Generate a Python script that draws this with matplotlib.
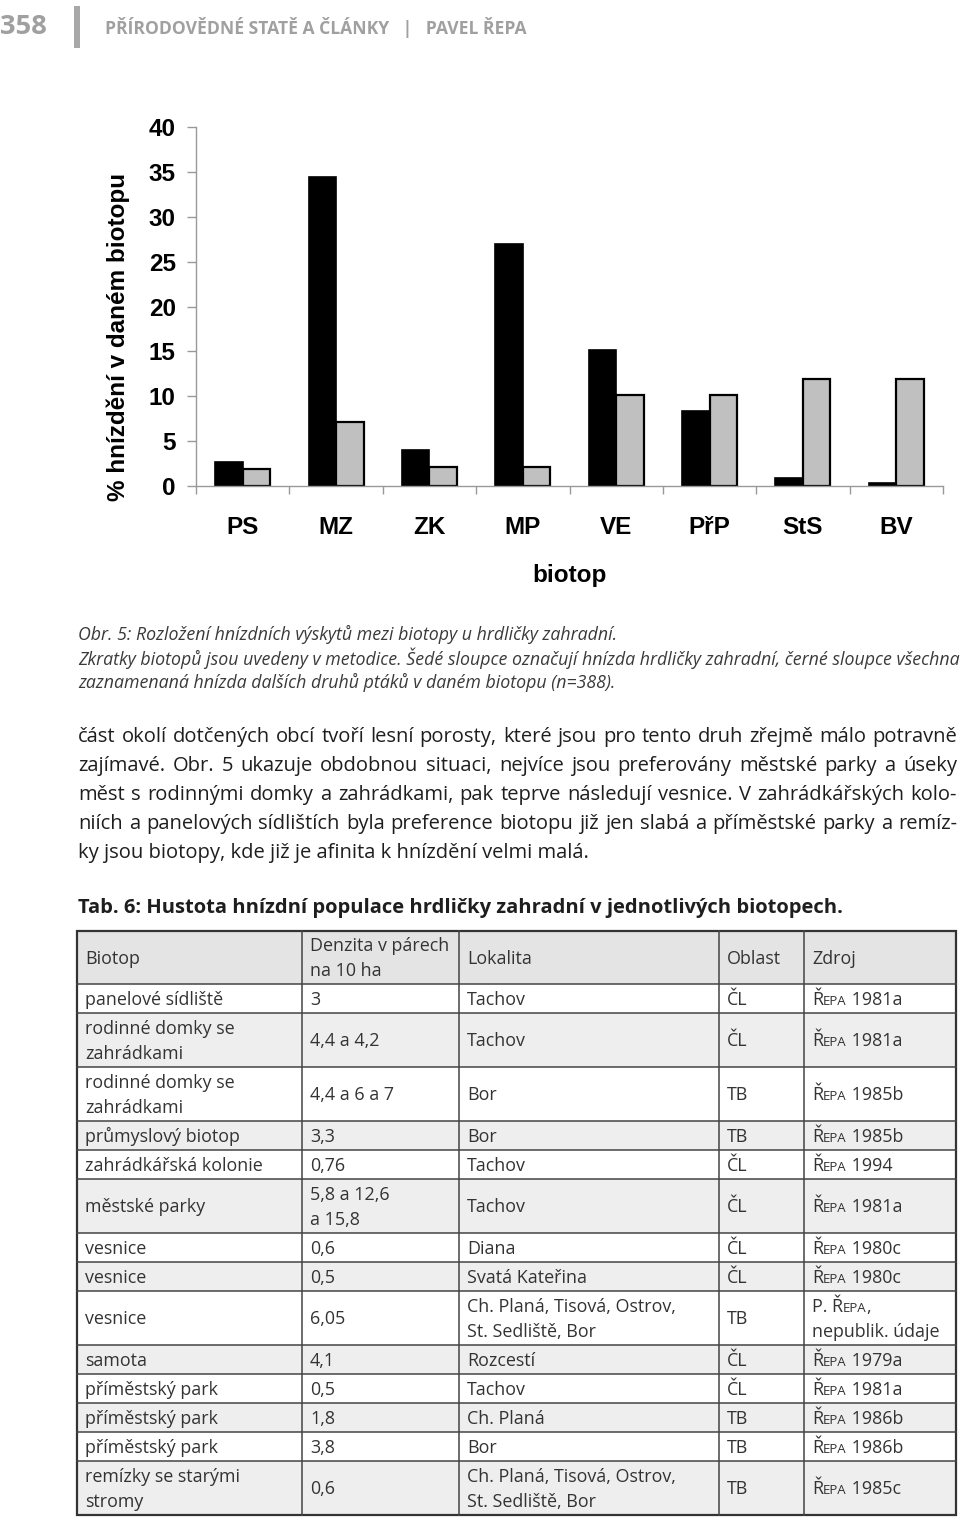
import numpy as np
import matplotlib
matplotlib.use('Agg')
import matplotlib.pyplot as plt
from matplotlib.patches import Rectangle

# --- chart data ---
biotopes = ['PS', 'MZ', 'ZK', 'MP', 'VE', 'PřP', 'StS', 'BV']
other_birds = [2.7, 34.4, 4.0, 27.0, 15.1, 8.3, 0.9, 0.3]      # black bars
collared_dove = [1.9, 7.1, 2.1, 2.1, 10.1, 10.1, 11.9, 11.9]   # grey bars
y_ticks = [0, 5, 10, 15, 20, 25, 30, 35, 40]

# --- text of the page ---
header_num = '358'
header_txt = 'PŘÍRODOVĚDNÉ STATĚ A ČLÁNKY   |   PAVEL ŘEPA'
caption = ['Obr. 5: Rozložení hnízdních výskytů mezi biotopy u hrdličky zahradní.',
           'Zkratky biotopů jsou uvedeny v metodice. Šedé sloupce označují hnízda hrdličky zahradní, černé sloupce všechna',
           'zaznamenaná hnízda dalších druhů ptáků v daném biotopu (n=388).']
paragraph = ['část okolí dotčených obcí tvoří lesní porosty, které jsou pro tento druh zřejmě málo potravně',
             'zajímavé. Obr. 5 ukazuje obdobnou situaci, nejvíce jsou preferovány městské parky a úseky',
             'měst s rodinnými domky a zahrádkami, pak teprve následují vesnice. V zahrádkářských kolo-',
             'niích a panelových sídlištích byla preference biotopu již jen slabá a příměstské parky a remíz-',
             'ky jsou biotopy, kde již je afinita k hnízdění velmi malá.']
tab_title = 'Tab. 6: Hustota hnízdní populace hrdličky zahradní v jednotlivých biotopech.'

# --- table data ---
tab_head = ['Biotop', 'Denzita v párech\nna 10 ha', 'Lokalita', 'Oblast', 'Zdroj']
tab_biotop = ['panelové sídliště', 'rodinné domky se\nzahrádkami', 'rodinné domky se\nzahrádkami',
              'průmyslový biotop', 'zahrádkářská kolonie', 'městské parky', 'vesnice', 'vesnice',
              'vesnice', 'samota', 'příměstský park', 'příměstský park', 'příměstský park',
              'remízky se starými\nstromy']
tab_denzita = ['3', '4,4 a 4,2', '4,4 a 6 a 7', '3,3', '0,76', '5,8 a 12,6\na 15,8', '0,6', '0,5',
               '6,05', '4,1', '0,5', '1,8', '3,8', '0,6']
tab_lokalita = ['Tachov', 'Tachov', 'Bor', 'Bor', 'Tachov', 'Tachov', 'Diana', 'Svatá Kateřina',
                'Ch. Planá, Tisová, Ostrov,\nSt. Sedliště, Bor', 'Rozcestí', 'Tachov', 'Ch. Planá', 'Bor',
                'Ch. Planá, Tisová, Ostrov,\nSt. Sedliště, Bor']
tab_oblast = ['ČL', 'ČL', 'TB', 'TB', 'ČL', 'ČL', 'ČL', 'ČL', 'TB', 'ČL', 'ČL', 'TB', 'TB', 'TB']
tab_zdroj = ['ŘEPA 1981a', 'ŘEPA 1981a', 'ŘEPA 1985b', 'ŘEPA 1985b', 'ŘEPA 1994', 'ŘEPA 1981a',
             'ŘEPA 1980c', 'ŘEPA 1980c', 'P. ŘEPA,\nnepublik. údaje', 'ŘEPA 1979a', 'ŘEPA 1981a',
             'ŘEPA 1986b', 'ŘEPA 1986b', 'ŘEPA 1985c']

W, H = 960, 1521
fig = plt.figure(figsize=(W / 100, H / 100), dpi=100)
fig.patch.set_facecolor('white')
page = fig.add_axes([0, 0, 1, 1])
page.set_xlim(0, W)
page.set_ylim(H, 0)
page.axis('off')
rend = fig.canvas.get_renderer()

BODY = ['Open Sans', 'DejaVu Sans']
ARIAL = ['Liberation Sans', 'DejaVu Sans']


def width_of(t):
    return t.get_window_extent(rend).width


def fit_text(x, y, s, width, size0=12, **kw):
    t = page.text(x, y, s, fontsize=size0, **kw)
    t.set_fontsize(size0 * width / width_of(t))
    return t


def justify(x0, x1, y, line, size, **kw):
    words = line.split(' ')
    texts = [page.text(0, y, w, fontsize=size, **kw) for w in words]
    widths = [width_of(t) for t in texts]
    gap = (x1 - x0 - sum(widths)) / max(len(words) - 1, 1)
    xx = x0
    for t, w in zip(texts, widths):
        t.set_x(xx)
        xx += w + gap


def runs(x, y, s, size, **kw):
    # "ŘEPA" is set in small caps in the source
    if 'ŘEPA' in s:
        a, b = s.split('ŘEPA', 1)
        parts = [(a + 'Ř', size), ('EPA', size * 0.74), (b, size)]
    else:
        parts = [(s, size)]
    xx = x
    for txt, sz in parts:
        if not txt:
            continue
        t = page.text(xx, y, txt, fontsize=sz, va='baseline', **kw)
        xx += width_of(t)


# ---------------- header ----------------
fit_text(0, 27, header_num, 47, size0=20, fontweight='bold', color='#a0a0a0',
         va='center', family=BODY)
page.add_patch(Rectangle((74, 6), 6, 42, color='#a8a8a8', lw=0))
fit_text(105, 27, header_txt, 420, size0=12, fontweight='bold', color='#a0a0a0',
         va='center', family=BODY)

# ---------------- bar chart ----------------
ax = fig.add_axes([196 / W, 1 - 485.7 / H, (943 - 196) / W, (485.7 - 127.3) / H])
xpos = np.arange(len(biotopes))
bw = 0.295
ax.bar(xpos - bw / 2, other_birds, bw, color='black', edgecolor='black', lw=1.2)
ax.bar(xpos + bw / 2, collared_dove, bw, color='#c0c0c0', edgecolor='black', lw=1.6)
ax.set_xlim(-0.5, len(biotopes) - 0.5)
ax.set_ylim(0, 40)
ax.set_yticks(y_ticks)
ax.set_xticks(np.arange(-0.5, len(biotopes), 1))
ax.set_xticklabels([])
ax.set_xticks(xpos, minor=True)
ax.set_xticklabels(biotopes, minor=True)
ax.tick_params(axis='x', which='minor', length=0, pad=22)
ax.tick_params(axis='x', which='major', length=6, color='#999999', width=1)
ax.tick_params(axis='y', length=6.5, color='#999999', width=1, pad=8)
for lab in ax.get_xticklabels(minor=True) + ax.get_yticklabels():
    lab.set_fontsize(17.5)
    lab.set_fontweight('bold')
    lab.set_family(ARIAL)
for side in ['top', 'right']:
    ax.spines[side].set_visible(False)
for side in ['left', 'bottom']:
    ax.spines[side].set_color('#999999')
    ax.spines[side].set_linewidth(1)
ax.set_xlabel('biotop', fontsize=17.5, fontweight='bold', family=ARIAL, labelpad=18)
ax.set_ylabel('% hnízdění v daném biotopu', fontsize=17.5, fontweight='bold', family=ARIAL, va='center')
ax.yaxis.set_label_coords((118 - 196) / 747, (485.7 - 337) / 358.4)

# ---------------- caption ----------------
cap_y = [634, 658, 682]
t = fit_text(78, cap_y[1], caption[1], 879, size0=12, style='italic', color='#3a3a3a',
             va='center', family=BODY)
cap_size = t.get_fontsize()
for i in [0, 2]:
    page.text(78, cap_y[i], caption[i], fontsize=cap_size, style='italic', color='#3a3a3a',
              va='center', family=BODY)

# ---------------- paragraph ----------------
par_y = [737, 766, 795, 824, 853]
natural = []
for line in paragraph[:4]:
    tt = page.text(0, 0, line, fontsize=14, family=BODY)
    natural.append(width_of(tt))
    tt.remove()
par_size = 14 * 879 / max(natural) * 0.995
for i, line in enumerate(paragraph):
    if i < 4:
        justify(78, 957, par_y[i], line, par_size, va='center', color='#1e1e1e', family=BODY)
    else:
        page.text(78, par_y[i], line, fontsize=par_size, va='center', color='#1e1e1e', family=BODY)

fit_text(78, 908, tab_title, 767, size0=14, fontweight='bold', va='center', color='#1e1e1e',
         family=BODY)

# ---------------- table ----------------
col_x = [77, 302, 459, 719, 804, 956]
top, head_h, h1, h2 = 931, 53, 29, 54
columns = [tab_biotop, tab_denzita, tab_lokalita, tab_oblast, tab_zdroj]

probe = page.text(0, 0, 'zahrádkářská kolonie', fontsize=12, family=BODY)
tab_size = 12 * 176 / width_of(probe)
probe.remove()
cap_px = tab_size * 100 / 72 * 0.36
tcol = '#333333'


def draw_row(y0, h, cells, bg):
    if bg:
        page.add_patch(Rectangle((col_x[0], y0), col_x[-1] - col_x[0], h, color=bg, lw=0, zorder=0))
    yc = y0 + h / 2
    for j, cell in enumerate(cells):
        lines = cell.split('\n')
        n = len(lines)
        for k, ln in enumerate(lines):
            yb = yc + (k - (n - 1) / 2) * 25 + cap_px
            runs(col_x[j] + 8, yb, ln, tab_size, color=tcol, family=BODY)


row_tops = [top]
draw_row(top, head_h, tab_head, '#e4e4e4')
y = top + head_h
for i in range(len(tab_biotop)):
    n = max(len(c[i].split('\n')) for c in columns)
    h = h1 if n == 1 else h2
    draw_row(y, h, [c[i] for c in columns], '#eeeeee' if i % 2 == 1 else None)
    row_tops.append(y)
    y += h
bottom = y

for yy in row_tops[1:]:
    page.plot([col_x[0], col_x[-1]], [yy, yy], color='#444444', lw=1.1)
for xx in col_x[1:-1]:
    page.plot([xx, xx], [top, bottom], color='#444444', lw=1.1)
page.add_patch(Rectangle((col_x[0], top), col_x[-1] - col_x[0], bottom - top, fill=False,
                         edgecolor='#333333', lw=1.6))

fig.savefig('out.png', dpi=100)
